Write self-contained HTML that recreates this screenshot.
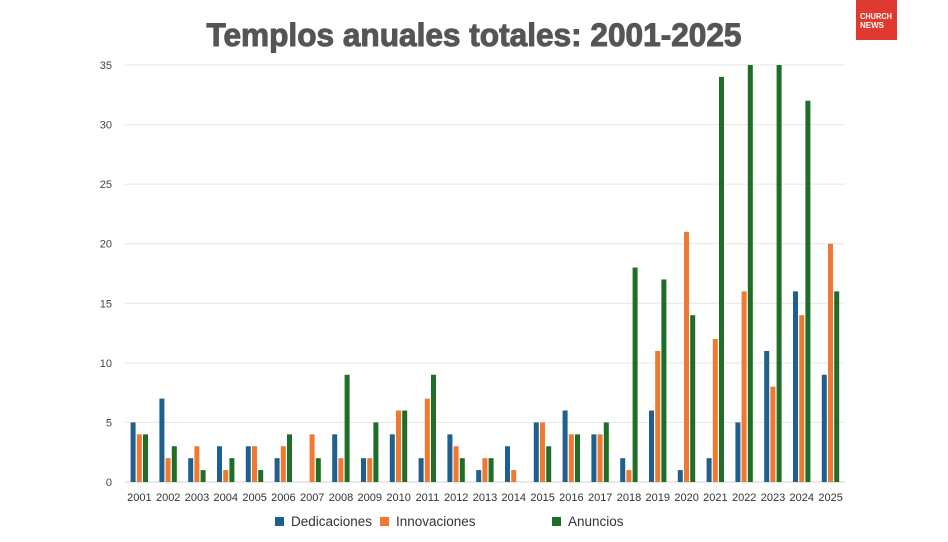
<!DOCTYPE html>
<html><head><meta charset="utf-8"><style>
html,body{margin:0;padding:0;background:#fff;}
svg{display:block;font-family:"Liberation Sans",sans-serif;}
</style></head><body>
<svg id="c" width="948" height="542" viewBox="0 0 948 542" xmlns="http://www.w3.org/2000/svg">
<rect width="948" height="542" fill="#fff"/>
<text x="474" y="46" text-anchor="middle" font-size="32" font-weight="bold" fill="#555" stroke="#555" stroke-width="1" textLength="535" lengthAdjust="spacingAndGlyphs">Templos anuales totales: 2001-2025</text>
<rect x="856" y="0" width="41" height="40" fill="#e0392f"/>
<text x="860" y="19" font-size="8" font-weight="bold" fill="#fff" textLength="32" lengthAdjust="spacingAndGlyphs">CHURCH</text>
<text x="860" y="28" font-size="8" font-weight="bold" fill="#fff">NEWS</text>
<g id="grid"></g>
<g id="bars"></g>
<g font-size="13.5" fill="#333">
<rect x="275" y="517" width="9" height="9" fill="#1f5f8b"/><text x="291" y="526">Dedicaciones</text>
<rect x="380" y="517" width="9" height="9" fill="#f07830"/><text x="396" y="526">Innovaciones</text>
<rect x="552" y="517" width="9" height="9" fill="#1e6e28"/><text x="568" y="526">Anuncios</text>
</g>
</svg>
<script>
var D=[5,7,2,3,3,2,0,4,2,4,2,4,1,3,5,6,4,2,6,1,2,5,11,16,9];
var I=[4,2,3,1,3,3,4,2,2,6,7,3,2,1,5,4,4,1,11,21,12,16,8,14,20];
var A=[4,3,1,2,1,4,2,9,5,6,9,2,2,0,3,4,5,18,17,14,34,35,35,32,16];
var ns="http://www.w3.org/2000/svg";
function el(t,a,p,txt){var e=document.createElementNS(ns,t);for(var k in a)e.setAttribute(k,a[k]);if(txt!=null)e.textContent=txt;p.appendChild(e);return e;}
var g=document.getElementById("grid"),b=document.getElementById("bars");
var y0=482,s=417/35;
for(var v=0;v<=35;v+=5){var y=y0-v*s;
el("line",{x1:125,x2:845,y1:y,y2:y,stroke:v==0?"#d0d0d0":"#e6e6e6","stroke-width":1},g);
el("text",{x:112,y:y+4,"text-anchor":"end","font-size":11,fill:"#444"},g,String(v));}
var cols=["#1f5f8b","#f07830","#1e6e28"],data=[D,I,A],w=28.8;
for(var i=0;i<25;i++){var c=125+w*i+w/2;
for(var j=0;j<3;j++){var val=data[j][i];if(!val)continue;var h=Math.min(val,35)*s;
el("rect",{x:c-8.8+j*6.2,y:y0-h,width:5,height:h,fill:cols[j]},b);}
el("text",{x:c,y:501,"text-anchor":"middle","font-size":11,fill:"#333"},b,String(2001+i));}
</script>
</body></html>
